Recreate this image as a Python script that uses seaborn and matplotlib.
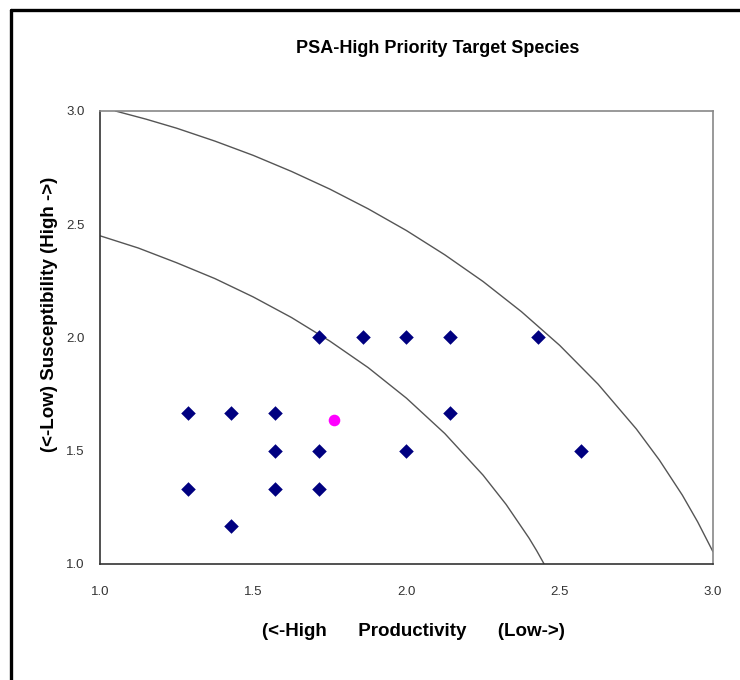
import numpy as np
import pandas as pd
import matplotlib
matplotlib.use("Agg")
import matplotlib.pyplot as plt
import seaborn as sns
from matplotlib.lines import Line2D

# species scores (productivity, susceptibility)
productivity = [1.286, 1.429, 1.571, 1.286, 1.429, 1.571, 1.571, 1.714, 1.714,
                1.714, 1.857, 2.0, 2.143, 2.429, 2.0, 2.143, 2.571]
susceptibility = [1.667, 1.667, 1.667, 1.333, 1.167, 1.5, 1.333, 1.5, 1.333,
                  2.0, 2.0, 2.0, 2.0, 2.0, 1.5, 1.667, 1.5]

# highlighted species
target_x = [1.765]
target_y = [1.636]

# vulnerability curves
outer_x = [1.05, 1.15, 1.25, 1.375, 1.5, 1.625, 1.75, 1.875, 2.0, 2.125,
           2.25, 2.375, 2.5, 2.625, 2.75, 2.825, 2.9, 2.95, 3.0]
outer_y = [3.0, 2.964, 2.924, 2.867, 2.804, 2.733, 2.655, 2.568, 2.472, 2.365,
           2.247, 2.114, 1.965, 1.794, 1.596, 1.459, 1.304, 1.186, 1.054]
inner_x = [1.0, 1.125, 1.25, 1.375, 1.5, 1.625, 1.75, 1.875, 2.0, 2.125,
           2.25, 2.325, 2.4, 2.425, 2.449]
inner_y = [2.449, 2.395, 2.33, 2.26, 2.179, 2.088, 1.984, 1.867, 1.732, 1.576,
           1.392, 1.263, 1.114, 1.058, 1.0]

ticks = [1.0, 1.5, 2.0, 2.5, 3.0]
tick_labels = ["1.0", "1.5", "2.0", "2.5", "3.0"]

sns.set_style("white")
plt.rcParams['font.family'] = ['Liberation Sans', 'DejaVu Sans']

fig = plt.figure(figsize=(7.4, 6.8), dpi=100)
ax = fig.add_axes([0.1351, 0.1706, 0.8284, 0.6662])

sns.lineplot(x=outer_x, y=outer_y, ax=ax, color="#555555", lw=1.0, sort=False)
sns.lineplot(x=inner_x, y=inner_y, ax=ax, color="#555555", lw=1.0, sort=False)

df = pd.DataFrame({"p": productivity, "s": susceptibility})
sns.scatterplot(data=df, x="p", y="s", ax=ax, marker="D", s=55,
                color="#000080", edgecolor="#000080", linewidth=0, zorder=3)
sns.scatterplot(x=target_x, y=target_y, ax=ax, marker="o", s=70,
                color="#FF00FF", edgecolor="#FF00FF", linewidth=0, zorder=4)

ax.set_xlim(1.0, 3.0)
ax.set_ylim(1.0, 3.0)
ax.set_xticks(ticks)
ax.set_xticklabels(tick_labels)
ax.set_yticks(ticks)
ax.set_yticklabels(tick_labels)
ax.tick_params(axis="both", labelsize=9.5, colors="#333333", length=4, width=1)
ax.tick_params(axis="x", direction="inout", pad=14)
ax.tick_params(axis="y", direction="out", pad=7)

for side in ["left", "bottom"]:
    ax.spines[side].set_color("#333333")
    ax.spines[side].set_linewidth(1.2)
for side in ["top", "right"]:
    ax.spines[side].set_color("#888888")
    ax.spines[side].set_linewidth(1.2)

ax.set_xlabel("(<-High      Productivity      (Low->)", fontsize=13.5,
              fontweight="bold", color="black")
ax.set_ylabel("(<-Low) Susceptibility (High ->)", fontsize=13.5,
              fontweight="bold", color="black")
ax.yaxis.set_label_coords(-0.068, 0.55)
ax.xaxis.set_label_coords(0.512, -0.13)

fig.text(0.592, 0.929, "PSA-High Priority Target Species", ha="center",
         va="center", fontsize=13, fontweight="bold", color="black")

# chart frame (only top and left edges visible)
fig.add_artist(Line2D([0.0155, 1.0], [0.9855, 0.9855], color="black", lw=2.4,
                      transform=fig.transFigure))
fig.add_artist(Line2D([0.0155, 0.0155], [0.0, 0.9855], color="black", lw=2.4,
                      transform=fig.transFigure))

fig.savefig("out.png", dpi=100)
